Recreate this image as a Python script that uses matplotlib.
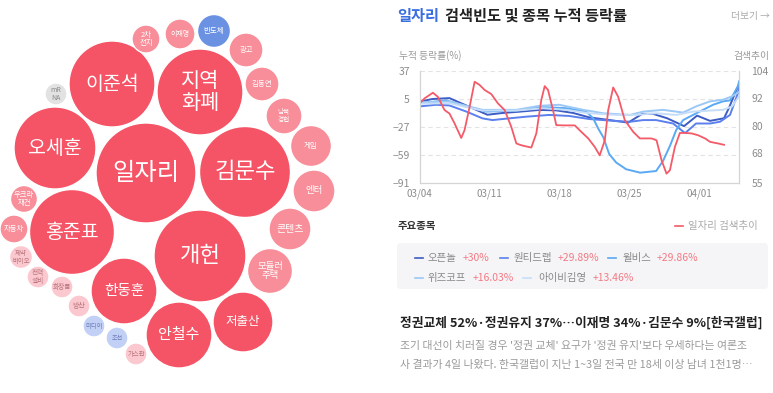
import matplotlib
matplotlib.use("Agg")
import matplotlib.pyplot as plt
from matplotlib.patches import Circle, FancyBboxPatch
from matplotlib.lines import Line2D

plt.rcParams['font.family'] = ['Noto Sans CJK KR', 'DejaVu Sans']

# ---------------- data ----------------
keywords = ["일자리", "이준석", "지역\n화폐", "오세훈", "김문수", "개헌", "홍준표",
            "한동훈", "안철수", "저출산", "모듈러\n주택", "콘텐츠", "엔터", "게임",
            "남북\n경협", "김동연", "광고", "반도체", "이재명", "2차\n전지", "mR\nNA",
            "우크라\n재건", "자동차", "제약\n바이오", "전력\n설비", "화장품", "방산",
            "미디어", "조선", "가스관"]
bubble_size = [50, 43, 43, 41, 45.5, 46, 42.5, 33, 33, 30, 22.5, 21, 21, 20.5,
               18, 17, 17, 16.5, 15, 14, 11, 13.5, 14, 11.5, 11, 11, 11, 11, 11, 11]
bubble_tier = ["hot"] * 10 + ["warm"] * 7 + ["blue", "warm", "warm", "gray",
               "warm", "warm", "pale", "pale", "pale", "pale", "paleblue", "paleblue", "pale"]

days = [0, 7, 14, 21, 28]
day_labels = ["03/04", "03/11", "03/18", "03/25", "04/01"]

search_x = [0, 0.5, 1.34, 1.84, 2.51, 3.0, 3.51, 4.18, 4.51, 5.02, 5.52, 6.02, 6.52, 7.19,
            7.86, 8.53, 9.19, 9.7, 10.2, 11.2, 11.7, 12.2, 12.54, 12.87, 13.37, 13.7, 14.54,
            15.55, 16.2, 16.9, 17.55, 18.05, 18.56, 18.9, 19.4, 19.9, 20.56, 21.4, 22.07,
            23.24, 23.74, 24.24, 24.74, 25.08, 25.58, 26.08, 26.58, 27.25, 27.9, 28.6, 29.1,
            29.9, 30.5]
search_y = [89.8, 92.0, 94.5, 92.7, 86.9, 85.4, 81.1, 74.7, 78.1, 88.3, 99.3, 97.9, 95.7, 93.9,
            89.8, 86.9, 79.6, 72.3, 71.5, 70.5, 76.7, 91.3, 97.4, 95.7, 86.9, 80.3, 80.2,
            80.2, 77.4, 74.5, 70.8, 67.1, 73.7, 86.9, 96.8, 92.7, 82.5, 77.4, 74.5,
            74.5, 73.7, 65.0, 59.1, 60.6, 70.8, 76.9, 76.9, 76.7, 75.9, 74.5, 73.0,
            72.3, 71.7]

stocks = ["오픈놀", "원티드랩", "윌비스", "위즈코프", "아이비김영"]
stock_ret = ["+30%", "+29.89%", "+29.86%", "+16.03%", "+13.46%"]
stock_x = [
    [0, 1.3, 3.0, 4.0, 5.3, 6.8, 8.3, 10, 12, 13.7, 15.4, 17, 19, 20.9, 22.3, 23.4, 24.8,
     26.5, 27.8, 29.1, 30.5, 31.0, 31.8, 32],
    [0, 1.66, 3.0, 4.7, 6.3, 7.3, 9.0, 10.7, 13.0, 15.0, 17.0, 19.7, 21.1, 22.4, 23.7,
     25.4, 26.6, 27.7, 29.1, 30.1, 31.1, 31.9, 32],
    [0, 2.7, 4.7, 6.7, 9.7, 12.4, 14.7, 16.7, 17.4, 17.9, 18.4, 19.0, 19.7, 20.7, 22.1,
     23.7, 24.4, 25.1, 25.7, 26.4, 27.4, 28.4, 29.4, 30.4, 31.1, 31.9, 32],
    [0, 3, 4.7, 6.3, 9.7, 12.0, 14.0, 16.4, 18.4, 21.1, 22.4, 24.4, 26.4, 27.7, 29.1,
     30.4, 31.3, 32],
    [0, 3, 4.7, 6.3, 9.7, 12.4, 14.7, 17, 19.7, 21.7, 23.7, 25.7, 27.4, 29.1, 30.4,
     31.3, 32],
]
stock_y = [
    [2, 5, 6, 1, -5.5, -13, -11, -9.5, -7.5, -8, -11, -16, -19, -22, -12, -12, -17,
     -26, -14, -20, -17, -5, 17, 22],
    [-3.5, -1.6, -2.4, -9.4, -17.1, -19.1, -17.1, -15.2, -13.2, -14.4, -17.9, -20.2, -21,
     -19.1, -19.1, -23, -34, -23, -23, -21, -13.2, 12, 19],
    [0.3, 3.4, -3.5, -9.4, -8.2, -4.3, -5.5, -9.4, -17.1, -28.8, -38.5, -57.9, -67.6,
     -75.3, -79.2, -77.3, -65.6, -48.2, -30.7, -19.1, -13.2, -7.4, -1.6, 2.3, 3.4, 19.7, 25],
    [1.1, 2.3, -2.8, -7.4, -7.4, -2.8, -1.6, -7.4, -11.3, -13.2, -9.4, -7.4, -10.5, -3.5,
     2.3, 4.2, 8, 13],
    [-0.4, 0.3, -4.3, -8.2, -8.2, -5.5, -7.4, -11.3, -13.2, -13.2, -11.3, -13.2, -9.4,
     -8.2, -7.4, -3.5, 8],
]
stock_colors = ["#3d5cc4", "#5b80ee", "#5aa9f4", "#9cc8f6", "#c6ddf7"]

headline = "정권교체 52%·정권유지 37%…이재명 34%·김문수 9%[한국갤럽]"
body = ["조기 대선이 치러질 경우 '정권 교체' 요구가 '정권 유지'보다 우세하다는 여론조",
        "사 결과가 4일 나왔다. 한국갤럽이 지난 1~3일 전국 만 18세 이상 남녀 1천1명…"]

# ---------------- layout (pixel positions) ----------------
bubble_cx = [146, 112, 200, 55, 245, 200, 72, 124, 179, 243, 270, 290, 314, 311,
             284, 262, 246, 214, 180, 146, 56, 24, 14, 21, 38, 62, 79, 94, 117, 136]
bubble_cy = [173, 84, 92, 148, 172, 256, 232, 291, 335, 322, 271, 229, 191, 146,
             116, 84, 50, 31, 34, 39, 94, 199, 229, 257, 277, 287, 306, 326, 338, 354]
bubble_fs = [17.5, 14, 15, 14, 16, 16, 14, 10.5, 10.8, 9, 6.8, 7.2, 6.8, 5.4,
             4.8, 5.4, 5.3, 5.4, 5, 5.3, 5, 5.3, 5.3, 4.6, 4.8, 4.8, 5, 4.6, 4.4, 4.6]
tier_face = {"hot": "#f55466", "warm": "#f78e99", "blue": "#6b92e2", "gray": "#e2e2e2",
             "pale": "#fac8ce", "paleblue": "#c3d0f6"}
tier_text = {"hot": "white", "warm": "white", "blue": "white", "gray": "#8a8a8a",
             "pale": "#b9727b", "paleblue": "#6c7cb8"}

W, H = 773, 393
fig = plt.figure(figsize=(W / 100, H / 100), dpi=100)
fig.patch.set_facecolor("white")
canvas = fig.add_axes([0, 0, 1, 1])
canvas.set_xlim(0, W)
canvas.set_ylim(H, 0)
canvas.axis("off")

# --- bubbles ---
for name, r, tier, cx, cy, fs in zip(keywords, bubble_size, bubble_tier,
                                     bubble_cx, bubble_cy, bubble_fs):
    canvas.add_patch(Circle((cx, cy), r, facecolor=tier_face[tier],
                            edgecolor="white", linewidth=1))
    canvas.text(cx, cy, name, ha="center", va="center", fontsize=fs,
                color=tier_text[tier], linespacing=1.05)

# --- header texts ---
canvas.text(397, 16, "일자리", color="#3a6fe0", fontsize=11, fontweight="bold", va="center")
canvas.text(445, 16, "검색빈도 및 종목 누적 등락률", color="#222222", fontsize=11,
            fontweight="bold", va="center")
canvas.text(770, 16, "더보기 →", color="#aaaaaa", fontsize=7, ha="right", va="center")
canvas.text(399, 56, "누적 등락률(%)", color="#999999", fontsize=7, va="center")
canvas.text(769, 56, "검색추이", color="#999999", fontsize=7, ha="right", va="center")

# --- line chart ---
ax = fig.add_axes([419.5 / W, 1 - 183 / H, (739 - 419.5) / W, (183 - 71) / H])
ax2 = ax.twinx()
for xs, ys, c in zip(stock_x, stock_y, stock_colors):
    ax.plot(xs, ys, color=c, linewidth=1.4, solid_joinstyle="round")
ax2.plot(search_x, search_y, color="#f45a68", linewidth=1.3, solid_joinstyle="round")

ax.set_xlim(0, 32)
ax.set_ylim(-91, 37)
ax.set_yticks([-91, -59, -27, 5, 37])
ax2.set_ylim(55, 104)
ax2.set_yticks([55, 68, 80, 92, 104])
ax.set_xticks(days)
ax.set_xticklabels(day_labels)
for y in [-59, -27, 5, 37]:
    ax.axhline(y, color="#e3e3e3", linewidth=0.8, dashes=(4, 3), zorder=0)
for a in (ax, ax2):
    a.tick_params(length=0, labelsize=7.5, colors="#8c8c8c")
    a.spines["top"].set_visible(False)
    for s in ("left", "right", "bottom"):
        a.spines[s].set_color("#d4d4d4")
ax.tick_params(axis="y", pad=7)
ax2.tick_params(axis="y", pad=9)
ax.tick_params(axis="x", pad=4, labelsize=7)

# --- legend area ---
canvas.text(398, 226, "주요종목", color="#333333", fontsize=7.5, fontweight="bold", va="center")
canvas.add_line(Line2D([675, 683], [226, 226], color="#f45a68", linewidth=1.2))
canvas.text(688, 226, "일자리 검색추이", color="#aaaaaa", fontsize=7.5, va="center")
canvas.add_patch(FancyBboxPatch((397, 243), 371, 46, boxstyle="round,pad=0,rounding_size=4",
                                facecolor="#f5f5f7", edgecolor="none"))
leg_dash_x = [415, 500, 608, 415, 523]
leg_name_x = [428, 513, 622, 428, 538]
leg_ret_x = [463, 558, 657, 473, 593]
leg_y = [258, 258, 258, 278, 278]
for name, ret, c, dx, nx, rx, y in zip(stocks, stock_ret, stock_colors, leg_dash_x,
                                       leg_name_x, leg_ret_x, leg_y):
    canvas.add_line(Line2D([dx, dx + 8], [y, y], color=c, linewidth=1.2))
    canvas.text(nx, y, name, color="#888888", fontsize=7.5, va="center")
    canvas.text(rx, y, ret, color="#f47a84", fontsize=7.5, va="center")

# --- news ---
canvas.text(400, 323, headline, color="#222222", fontsize=9.2, fontweight="bold", va="center")
for i, line in enumerate(body):
    canvas.text(400, 346 + 19 * i, line, color="#9a9a9a", fontsize=7.85, va="center")

fig.savefig("out.png", dpi=100, facecolor="white")
